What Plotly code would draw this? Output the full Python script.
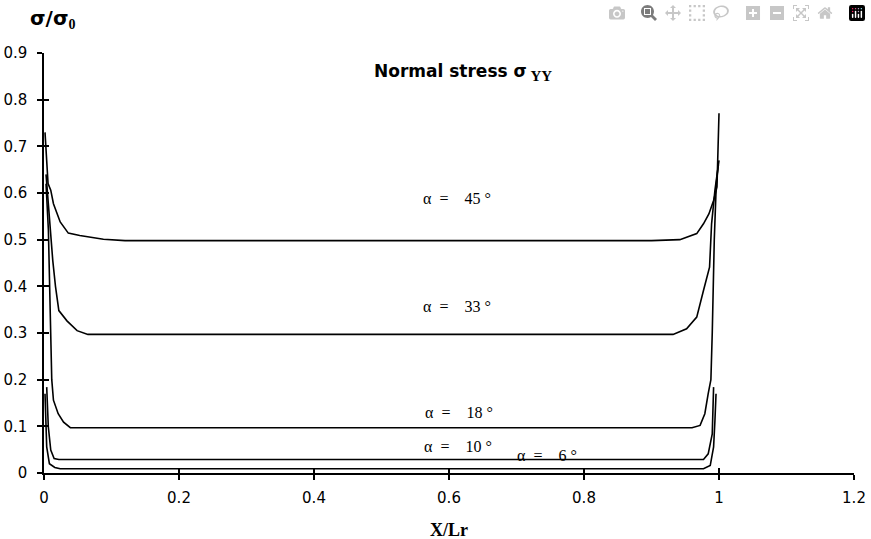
import plotly.graph_objects as go

# ---- data ----
x45 = [0.0015, 0.006, 0.010, 0.014, 0.024, 0.036, 0.053, 0.068, 0.088, 0.12, 0.90, 0.942, 0.967, 0.977, 0.985, 0.992, 0.997, 1.0]
y45 = [0.73, 0.62, 0.606, 0.577, 0.538, 0.514, 0.509, 0.506, 0.501, 0.498, 0.498, 0.50, 0.513, 0.534, 0.555, 0.584, 0.613, 0.771]

x33 = [0.003, 0.010, 0.013, 0.017, 0.022, 0.034, 0.049, 0.065, 0.932, 0.952, 0.967, 0.977, 0.986, 0.989, 0.994, 1.0]
y33 = [0.64, 0.50, 0.455, 0.40, 0.348, 0.326, 0.305, 0.297, 0.297, 0.309, 0.334, 0.391, 0.441, 0.534, 0.606, 0.67]

x18 = [0.003, 0.0065, 0.0115, 0.014, 0.021, 0.029, 0.039, 0.96, 0.972, 0.979, 0.984, 0.988, 0.990, 0.993, 0.996, 0.999]
y18 = [0.62, 0.52, 0.20, 0.156, 0.127, 0.109, 0.097, 0.097, 0.102, 0.127, 0.17, 0.2, 0.3, 0.5, 0.62, 0.66]

x10 = [0.004, 0.0064, 0.010, 0.015, 0.022, 0.977, 0.984, 0.990, 0.992]
y10 = [0.184, 0.099, 0.049, 0.031, 0.029, 0.029, 0.041, 0.084, 0.184]

x6 = [0.0015, 0.004, 0.008, 0.016, 0.024, 0.977, 0.987, 0.992, 0.994, 0.9956]
y6 = [0.17, 0.056, 0.02, 0.012, 0.009, 0.009, 0.016, 0.056, 0.113, 0.17]

series = [(x45, y45), (x33, y33), (x18, y18), (x10, y10), (x6, y6)]

label_texts = ["45", "33", "18", "10", "6"]
label_x = [0.5585, 0.5585, 0.5615, 0.5596, 0.6978]
label_y = [0.588, 0.357, 0.130, 0.0574, 0.038]

x_ticks = [0, 0.2, 0.4, 0.6, 0.8, 1.0, 1.2]
x_tick_text = ["0", "0.2", "0.4", "0.6", "0.8", "1", "1.2"]
y_ticks = [0, 0.1, 0.2, 0.3, 0.4, 0.5, 0.6, 0.7, 0.8, 0.9]
y_tick_text = ["0", "0.1", "0.2", "0.3", "0.4", "0.5", "0.6", "0.7", "0.8", "0.9"]

nb = "\u00a0"

fig = go.Figure()
for xs, ys in series:
    fig.add_trace(go.Scatter(x=xs, y=ys, mode="lines",
                             line=dict(color="black", width=1.6),
                             showlegend=False, hoverinfo="skip"))
# empty trace so the overlay axes (inner half of crossing ticks) exist
fig.add_trace(go.Scatter(x=[None], y=[None], xaxis="x2", yaxis="y2",
                         showlegend=False, hoverinfo="skip"))

tickfont = dict(family="DejaVu Sans", size=15, color="black")
common = dict(showgrid=False, zeroline=False, showline=True, linecolor="black",
              linewidth=1.5, ticks="outside", ticklen=5, tickwidth=1.5,
              tickcolor="black", tickfont=tickfont, automargin=False)

fig.update_layout(
    width=871, height=539,
    margin=dict(l=44, r=17, t=53, b=66),
    paper_bgcolor="white", plot_bgcolor="white",
    xaxis=dict(range=[0, 1.2], tickvals=x_ticks, ticktext=x_tick_text,
               ticklabelstandoff=5, **common),
    yaxis=dict(range=[0, 0.9], tickvals=y_ticks, ticktext=y_tick_text,
               ticklabelstandoff=7, **common),
    xaxis2=dict(range=[0, 1.2], overlaying="x", anchor="y", tickvals=x_ticks,
                showticklabels=False, showgrid=False, zeroline=False, showline=False,
                ticks="inside", ticklen=5, tickwidth=1.5, tickcolor="black", automargin=False),
    yaxis2=dict(range=[0, 0.9], overlaying="y", anchor="x", tickvals=y_ticks,
                showticklabels=False, showgrid=False, zeroline=False, showline=False,
                ticks="inside", ticklen=5, tickwidth=1.5, tickcolor="black", automargin=False),
)

for t, lx, ly in zip(label_texts, label_x, label_y):
    fig.add_annotation(x=lx, y=ly, xref="x", yref="y", xanchor="left", yanchor="middle",
                       text=f"α{nb*2}={nb*4}{t}{nb}°", showarrow=False,
                       font=dict(family="Liberation Serif, Times New Roman", size=16, color="black"))

# chart text box
fig.add_annotation(x=0.4855, y=0.8575, xref="x", yref="y", xanchor="left", yanchor="middle",
                   text="<b>Normal stress σ</b><sub><b><span style='font-family:Liberation Serif;font-size:15px'>" + nb + "YY</span></b></sub>",
                   showarrow=False,
                   font=dict(family="DejaVu Sans", size=17, color="black"))
# y-axis title
fig.add_annotation(x=-0.0198, y=1.08, xref="paper", yref="paper", xanchor="left", yanchor="middle",
                   text="<b>σ/σ</b><sub><b><span style='font-family:Liberation Serif;font-size:14px'>0</span></b></sub>",
                   showarrow=False,
                   font=dict(family="DejaVu Sans", size=20, color="black"))
# x-axis title
fig.add_annotation(x=0.5, y=-0.135, xref="paper", yref="paper", xanchor="center", yanchor="middle",
                   text="<b>X/Lr</b>", showarrow=False,
                   font=dict(family="Liberation Serif, Times New Roman", size=18, color="black"))

fig.write_html("out.html", post_script="document.body.style.margin='0';")
